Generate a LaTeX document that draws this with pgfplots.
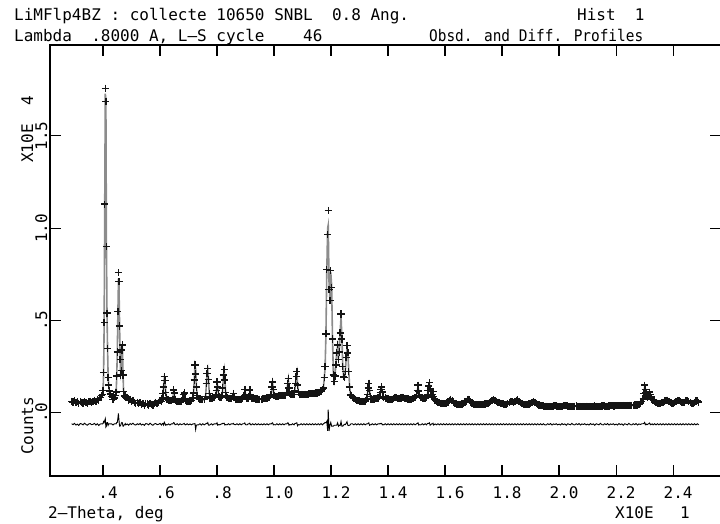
\documentclass[border=0pt]{standalone}
\usepackage{pgfplots}
\pgfplotsset{compat=1.18}
\usepackage{pgfplotstable}
\usepackage{graphicx}
\usepackage{fontspec}
\setmainfont{DejaVu Sans Mono}

\definecolor{obscol}{RGB}{20,20,20}
\definecolor{calccol}{RGB}{140,140,140}

% x (2-theta / 10), observed, calculated  (counts / 1e4)
\pgfplotstableread[row sep=\\]{
x obs calc\\
0.290 0.063 0.060\\ 0.295 0.059 0.061\\ 0.300 0.066 0.061\\ 0.305 0.056 0.060\\ 0.310 0.060 0.059\\ 0.315 0.052 0.058\\
0.320 0.061 0.057\\ 0.325 0.058 0.056\\ 0.330 0.053 0.056\\ 0.335 0.062 0.056\\ 0.340 0.056 0.057\\ 0.345 0.052 0.057\\
0.350 0.060 0.058\\ 0.355 0.063 0.059\\ 0.360 0.058 0.060\\ 0.365 0.061 0.061\\ 0.370 0.068 0.063\\ 0.375 0.062 0.066\\
0.380 0.073 0.070\\ 0.385 0.069 0.075\\ 0.390 0.083 0.082\\ 0.395 0.093 0.090\\
0.398 0.098 0.096\\ 0.400 0.122 0.118\\ 0.402 0.220 0.205\\ 0.404 0.490 0.480\\ 0.406 1.130 1.110\\ 0.408 1.758 1.728\\
0.410 1.685 1.700\\ 0.412 0.900 0.910\\ 0.414 0.540 0.530\\ 0.416 0.350 0.340\\ 0.418 0.190 0.195\\ 0.420 0.150 0.148\\ 0.422 0.118 0.115\\
0.425 0.102 0.100\\ 0.430 0.088 0.085\\ 0.435 0.071 0.075\\ 0.440 0.081 0.078\\
0.444 0.095 0.092\\ 0.446 0.112 0.110\\ 0.448 0.200 0.190\\ 0.450 0.330 0.320\\ 0.452 0.550 0.520\\ 0.454 0.759 0.700\\
0.456 0.712 0.690\\ 0.458 0.470 0.480\\ 0.460 0.290 0.300\\ 0.462 0.205 0.210\\ 0.464 0.230 0.225\\ 0.466 0.340 0.330\\
0.468 0.368 0.360\\ 0.470 0.205 0.215\\ 0.472 0.115 0.125\\ 0.474 0.095 0.098\\ 0.476 0.088 0.090\\ 0.478 0.092 0.088\\
0.480 0.085 0.088\\ 0.485 0.082 0.080\\ 0.490 0.069 0.074\\ 0.495 0.072 0.068\\ 0.500 0.063 0.064\\ 0.505 0.067 0.061\\
0.510 0.056 0.058\\ 0.515 0.052 0.056\\ 0.520 0.057 0.054\\ 0.525 0.050 0.052\\ 0.530 0.055 0.050\\ 0.535 0.045 0.049\\
0.540 0.049 0.048\\ 0.545 0.041 0.047\\ 0.550 0.051 0.047\\ 0.555 0.048 0.046\\ 0.560 0.043 0.046\\ 0.565 0.052 0.046\\
0.570 0.046 0.047\\ 0.575 0.043 0.048\\ 0.580 0.052 0.050\\ 0.585 0.056 0.052\\ 0.590 0.052 0.054\\ 0.595 0.057 0.057\\
0.600 0.065 0.060\\ 0.605 0.061 0.065\\
0.6075 0.075 0.072\\ 0.6100 0.105 0.100\\ 0.6125 0.141 0.145\\ 0.6150 0.196 0.185\\ 0.6175 0.174 0.170\\ 0.6200 0.110 0.115\\ 0.6225 0.080 0.082\\
0.625 0.072 0.075\\ 0.630 0.070 0.068\\ 0.635 0.066 0.070\\ 0.640 0.066 0.063\\
0.6450 0.072 0.070\\ 0.6475 0.124 0.115\\ 0.6500 0.107 0.100\\ 0.6525 0.072 0.074\\
0.655 0.066 0.068\\ 0.660 0.063 0.060\\ 0.665 0.062 0.066\\ 0.670 0.062 0.059\\ 0.675 0.064 0.066\\
0.6800 0.075 0.074\\ 0.6825 0.098 0.095\\ 0.6850 0.107 0.102\\ 0.6875 0.078 0.080\\
0.690 0.066 0.069\\ 0.695 0.063 0.060\\ 0.700 0.062 0.065\\ 0.705 0.064 0.062\\ 0.710 0.068 0.071\\
0.7150 0.080 0.078\\ 0.7175 0.107 0.105\\ 0.7200 0.178 0.175\\ 0.7225 0.259 0.255\\ 0.7250 0.210 0.238\\ 0.7275 0.140 0.145\\ 0.7300 0.095 0.098\\
0.735 0.078 0.081\\ 0.740 0.075 0.072\\ 0.745 0.072 0.076\\ 0.750 0.072 0.069\\ 0.755 0.074 0.077\\
0.7600 0.090 0.088\\ 0.7625 0.160 0.155\\ 0.7650 0.214 0.210\\ 0.7675 0.241 0.232\\ 0.7700 0.181 0.185\\ 0.7725 0.105 0.110\\
0.775 0.080 0.083\\ 0.780 0.078 0.075\\ 0.785 0.080 0.084\\ 0.790 0.084 0.081\\
0.7950 0.092 0.090\\ 0.7975 0.120 0.118\\ 0.8000 0.168 0.160\\ 0.8025 0.140 0.145\\ 0.8050 0.100 0.102\\ 0.8075 0.088 0.090\\
0.810 0.085 0.088\\ 0.815 0.082 0.080\\
0.8175 0.095 0.093\\ 0.8200 0.135 0.130\\ 0.8225 0.205 0.200\\ 0.8250 0.236 0.230\\ 0.8275 0.178 0.182\\ 0.8300 0.110 0.112\\ 0.8325 0.088 0.090\\
0.835 0.082 0.085\\ 0.840 0.078 0.075\\ 0.845 0.076 0.079\\ 0.850 0.076 0.073\\
0.8550 0.090 0.088\\ 0.8575 0.105 0.100\\ 0.8600 0.085 0.086\\
0.865 0.074 0.076\\ 0.870 0.073 0.070\\ 0.875 0.072 0.075\\ 0.880 0.072 0.069\\ 0.885 0.074 0.077\\ 0.890 0.076 0.073\\
0.8950 0.095 0.092\\ 0.8975 0.127 0.120\\ 0.9000 0.100 0.102\\
0.905 0.078 0.081\\ 0.910 0.080 0.077\\
0.9125 0.090 0.088\\ 0.9150 0.124 0.118\\ 0.9175 0.098 0.100\\
0.920 0.080 0.083\\ 0.925 0.078 0.075\\ 0.930 0.076 0.079\\ 0.935 0.075 0.072\\ 0.940 0.075 0.078\\ 0.945 0.074 0.071\\
0.950 0.074 0.077\\ 0.955 0.074 0.072\\ 0.960 0.075 0.078\\ 0.965 0.076 0.073\\ 0.970 0.078 0.081\\ 0.975 0.080 0.077\\
0.980 0.082 0.085\\ 0.985 0.085 0.082\\
0.9900 0.100 0.098\\ 0.9925 0.141 0.135\\ 0.9950 0.168 0.160\\ 0.9975 0.125 0.128\\ 1.0000 0.095 0.097\\
1.005 0.088 0.091\\ 1.010 0.090 0.087\\ 1.015 0.091 0.094\\ 1.020 0.092 0.089\\ 1.025 0.093 0.096\\ 1.030 0.094 0.091\\
1.035 0.095 0.098\\ 1.040 0.096 0.093\\
1.0450 0.110 0.108\\ 1.0475 0.160 0.152\\ 1.0500 0.187 0.180\\ 1.0525 0.135 0.140\\ 1.0550 0.105 0.106\\
1.060 0.098 0.101\\ 1.065 0.098 0.095\\ 1.070 0.099 0.102\\
1.0725 0.118 0.115\\ 1.0750 0.160 0.155\\ 1.0775 0.196 0.190\\ 1.0800 0.223 0.215\\ 1.0825 0.150 0.158\\ 1.0850 0.112 0.114\\
1.090 0.100 0.103\\ 1.095 0.100 0.097\\ 1.100 0.100 0.103\\ 1.105 0.100 0.097\\ 1.110 0.101 0.104\\ 1.115 0.101 0.098\\
1.120 0.102 0.105\\ 1.125 0.103 0.100\\ 1.130 0.104 0.107\\ 1.135 0.105 0.102\\ 1.140 0.106 0.109\\ 1.145 0.107 0.104\\
1.150 0.108 0.111\\ 1.155 0.110 0.107\\ 1.160 0.112 0.115\\ 1.165 0.118 0.114\\ 1.170 0.125 0.128\\
1.173 0.135 0.132\\ 1.176 0.190 0.185\\ 1.179 0.250 0.240\\ 1.182 0.428 0.420\\ 1.185 0.776 0.760\\ 1.188 0.965 1.000\\
1.190 1.096 1.016\\ 1.193 0.667 0.703\\ 1.196 0.610 0.615\\ 1.199 0.770 0.760\\ 1.202 0.680 0.690\\ 1.205 0.400 0.410\\
1.208 0.205 0.215\\ 1.211 0.170 0.175\\ 1.214 0.200 0.205\\ 1.217 0.260 0.265\\ 1.220 0.325 0.330\\ 1.223 0.368 0.360\\
1.226 0.290 0.300\\ 1.229 0.330 0.335\\ 1.232 0.433 0.440\\ 1.235 0.535 0.520\\ 1.238 0.400 0.410\\ 1.241 0.250 0.260\\
1.244 0.195 0.200\\ 1.247 0.190 0.190\\ 1.250 0.223 0.225\\ 1.253 0.300 0.295\\ 1.256 0.364 0.350\\ 1.259 0.325 0.330\\
1.262 0.223 0.230\\ 1.265 0.140 0.145\\ 1.268 0.100 0.102\\
1.270 0.095 0.092\\ 1.275 0.085 0.082\\ 1.280 0.078 0.081\\ 1.285 0.073 0.070\\ 1.290 0.069 0.072\\ 1.295 0.066 0.063\\
1.300 0.064 0.067\\ 1.305 0.062 0.059\\ 1.310 0.061 0.064\\ 1.315 0.062 0.059\\ 1.320 0.064 0.067\\
1.3250 0.075 0.072\\ 1.3275 0.100 0.098\\ 1.3300 0.135 0.130\\ 1.3325 0.160 0.152\\ 1.3350 0.120 0.125\\ 1.3375 0.088 0.090\\
1.340 0.075 0.078\\ 1.345 0.072 0.069\\ 1.350 0.075 0.078\\ 1.355 0.076 0.073\\ 1.360 0.078 0.081\\ 1.365 0.080 0.077\\
1.3700 0.088 0.086\\ 1.3725 0.110 0.105\\ 1.3750 0.128 0.125\\ 1.3775 0.140 0.135\\ 1.3800 0.112 0.115\\ 1.3825 0.090 0.092\\
1.385 0.082 0.085\\ 1.390 0.080 0.077\\ 1.395 0.078 0.081\\ 1.400 0.075 0.072\\ 1.405 0.073 0.076\\ 1.410 0.072 0.069\\
1.415 0.074 0.077\\ 1.420 0.078 0.075\\ 1.425 0.085 0.088\\ 1.430 0.082 0.079\\ 1.435 0.079 0.082\\ 1.440 0.078 0.075\\
1.445 0.080 0.083\\ 1.450 0.084 0.081\\ 1.455 0.082 0.085\\ 1.460 0.078 0.075\\ 1.465 0.076 0.079\\ 1.470 0.075 0.072\\
1.475 0.074 0.077\\ 1.480 0.074 0.071\\ 1.485 0.076 0.079\\ 1.490 0.078 0.075\\ 1.495 0.082 0.085\\
1.5000 0.095 0.092\\ 1.5025 0.120 0.115\\ 1.5050 0.150 0.142\\ 1.5075 0.118 0.122\\ 1.5100 0.092 0.094\\
1.515 0.082 0.085\\ 1.520 0.080 0.077\\ 1.525 0.079 0.082\\ 1.530 0.078 0.075\\ 1.535 0.082 0.085\\
1.5375 0.098 0.095\\ 1.5400 0.120 0.115\\ 1.5425 0.145 0.140\\ 1.5450 0.163 0.155\\ 1.5475 0.130 0.135\\ 1.5500 0.100 0.102\\
1.5525 0.092 0.090\\ 1.5550 0.100 0.098\\ 1.5575 0.114 0.108\\ 1.5600 0.090 0.094\\ 1.5625 0.075 0.076\\ 1.5650 0.068 0.066\\
1.570 0.062 0.065\\ 1.575 0.058 0.055\\ 1.580 0.055 0.058\\ 1.585 0.052 0.049\\ 1.590 0.050 0.053\\ 1.595 0.050 0.047\\
1.600 0.050 0.053\\ 1.605 0.053 0.050\\ 1.610 0.058 0.061\\ 1.615 0.068 0.065\\ 1.620 0.074 0.077\\ 1.625 0.065 0.062\\
1.630 0.056 0.059\\ 1.635 0.051 0.048\\ 1.640 0.048 0.051\\ 1.645 0.047 0.044\\ 1.650 0.046 0.049\\ 1.655 0.047 0.044\\
1.660 0.048 0.051\\ 1.665 0.051 0.048\\ 1.670 0.055 0.058\\ 1.675 0.063 0.060\\ 1.680 0.074 0.077\\ 1.685 0.070 0.067\\
1.690 0.058 0.061\\ 1.695 0.052 0.049\\ 1.700 0.048 0.051\\ 1.705 0.046 0.043\\ 1.710 0.045 0.048\\ 1.715 0.045 0.042\\
1.720 0.045 0.048\\ 1.725 0.045 0.042\\ 1.730 0.046 0.049\\ 1.735 0.047 0.044\\ 1.740 0.048 0.051\\ 1.745 0.050 0.047\\
1.750 0.052 0.055\\ 1.755 0.056 0.053\\ 1.760 0.060 0.063\\ 1.765 0.068 0.065\\ 1.770 0.073 0.076\\ 1.775 0.066 0.063\\
1.780 0.061 0.064\\ 1.785 0.058 0.055\\ 1.790 0.055 0.058\\ 1.795 0.052 0.049\\ 1.800 0.050 0.053\\ 1.805 0.048 0.045\\
1.810 0.046 0.049\\ 1.815 0.047 0.044\\ 1.820 0.050 0.053\\ 1.825 0.056 0.053\\ 1.830 0.062 0.065\\ 1.835 0.060 0.057\\
1.840 0.058 0.061\\ 1.845 0.062 0.059\\ 1.850 0.068 0.071\\ 1.855 0.070 0.067\\ 1.860 0.061 0.064\\ 1.865 0.055 0.052\\
1.870 0.050 0.053\\ 1.875 0.047 0.044\\ 1.880 0.045 0.048\\ 1.885 0.045 0.042\\ 1.890 0.045 0.048\\ 1.895 0.048 0.045\\
1.900 0.052 0.055\\ 1.905 0.058 0.055\\ 1.910 0.062 0.065\\ 1.915 0.056 0.053\\ 1.920 0.050 0.053\\ 1.925 0.045 0.042\\
1.930 0.042 0.045\\ 1.935 0.040 0.037\\ 1.940 0.038 0.041\\ 1.945 0.037 0.034\\ 1.950 0.036 0.039\\
1.955 0.036 0.039\\ 1.960 0.035 0.032\\ 1.965 0.035 0.037\\ 1.970 0.035 0.031\\ 1.975 0.036 0.040\\ 1.980 0.037 0.035\\
1.985 0.038 0.039\\ 1.990 0.037 0.034\\ 1.995 0.036 0.039\\ 2.000 0.035 0.034\\ 2.005 0.035 0.039\\ 2.010 0.036 0.032\\
2.015 0.038 0.040\\ 2.020 0.040 0.038\\ 2.025 0.039 0.044\\ 2.030 0.037 0.034\\ 2.035 0.035 0.035\\ 2.040 0.034 0.037\\
2.045 0.034 0.029\\ 2.050 0.035 0.037\\ 2.055 0.036 0.039\\ 2.060 0.037 0.034\\ 2.065 0.036 0.038\\ 2.070 0.035 0.031\\
2.075 0.034 0.038\\ 2.080 0.034 0.032\\ 2.085 0.034 0.035\\ 2.090 0.035 0.032\\ 2.095 0.036 0.039\\ 2.100 0.035 0.034\\
2.105 0.034 0.038\\ 2.110 0.034 0.030\\ 2.115 0.035 0.037\\ 2.120 0.036 0.034\\ 2.125 0.037 0.042\\ 2.130 0.036 0.033\\
2.135 0.035 0.035\\ 2.140 0.035 0.038\\ 2.145 0.036 0.031\\ 2.150 0.037 0.039\\ 2.155 0.038 0.041\\ 2.160 0.037 0.034\\
2.165 0.036 0.038\\ 2.170 0.036 0.032\\ 2.175 0.037 0.041\\ 2.180 0.038 0.036\\ 2.185 0.038 0.039\\ 2.190 0.037 0.034\\
2.195 0.037 0.040\\ 2.200 0.038 0.037\\ 2.205 0.039 0.043\\ 2.210 0.038 0.034\\ 2.215 0.038 0.040\\ 2.220 0.039 0.037\\
2.225 0.040 0.045\\ 2.230 0.039 0.036\\ 2.235 0.039 0.039\\ 2.240 0.040 0.043\\ 2.245 0.041 0.036\\ 2.250 0.040 0.042\\
2.255 0.040 0.043\\ 2.260 0.041 0.038\\ 2.265 0.042 0.044\\ 2.270 0.042 0.038\\ 2.275 0.043 0.047\\ 2.280 0.045 0.043\\
2.285 0.050 0.051\\ 2.290 0.060 0.057\\
2.2950 0.075 0.072\\ 2.2975 0.105 0.100\\ 2.3000 0.150 0.140\\ 2.3025 0.128 0.130\\ 2.3050 0.110 0.108\\ 2.3075 0.092 0.094\\
2.3100 0.085 0.086\\ 2.3125 0.090 0.088\\ 2.3150 0.100 0.096\\ 2.3175 0.112 0.105\\ 2.3200 0.098 0.100\\ 2.3225 0.085 0.084\\
2.3250 0.075 0.076\\ 2.3275 0.072 0.070\\
2.330 0.066 0.069\\ 2.335 0.060 0.057\\ 2.340 0.055 0.058\\ 2.345 0.052 0.049\\ 2.350 0.051 0.054\\ 2.355 0.052 0.049\\
2.360 0.054 0.057\\ 2.365 0.058 0.055\\ 2.370 0.064 0.067\\ 2.375 0.069 0.066\\ 2.380 0.068 0.071\\ 2.385 0.062 0.059\\
2.390 0.056 0.059\\ 2.395 0.053 0.050\\ 2.400 0.052 0.055\\ 2.405 0.054 0.051\\ 2.410 0.060 0.063\\ 2.415 0.067 0.064\\
2.420 0.066 0.069\\ 2.425 0.060 0.057\\ 2.430 0.055 0.058\\ 2.435 0.054 0.051\\ 2.440 0.058 0.061\\ 2.445 0.065 0.062\\
2.450 0.066 0.069\\ 2.455 0.060 0.057\\ 2.460 0.055 0.058\\ 2.465 0.052 0.049\\ 2.470 0.052 0.055\\ 2.475 0.056 0.053\\
2.480 0.064 0.067\\ 2.485 0.066 0.063\\ 2.490 0.058 0.061\\
}\gsasdata

\newcommand{\tx}[3]{\node[anchor=base west, inner sep=0pt] at (#1pt,#2pt) {#3};}

\begin{document}
\begin{tikzpicture}[font=\fontsize{16}{19}\selectfont]
\path[use as bounding box] (0,0) rectangle (720pt,523pt);
\begin{axis}[
    at={(50pt,47pt)}, anchor=south west,
    width=671pt, height=431pt, scale only axis,
    xmin=0.214, xmax=2.568, ymin=-0.342, ymax=1.992,
    axis line style={line width=1.2pt},
    tick align=inside, major tick length=11pt,
    tick style={line width=1.2pt, black},
    xtick pos=both, ytick pos=both,
    xticklabel pos=lower, yticklabel pos=left,
    xtick={0.4,0.6,0.8,1.0,1.2,1.4,1.6,1.8,2.0,2.2,2.4},
    xticklabels={.4,.6,.8,1.0,1.2,1.4,1.6,1.8,2.0,2.2,2.4},
    ytick={0,0.5,1.0,1.5},
    yticklabels={.0,.5,1.0,1.5},
    ticklabel style={font=\fontsize{16}{19}\selectfont},
    xticklabel style={anchor=base, xshift=5pt, yshift=-22pt, inner sep=0pt},
    yticklabel style={xshift=-3pt, rotate=90, anchor=base, inner sep=0pt},
]
\addplot[only marks, mark=+, mark size=3.6pt, mark options={draw=obscol, line width=1.4pt}]
    table[x=x, y=obs] {\gsasdata};
\addplot[calccol, line width=1.6pt] table[x=x, y=calc] {\gsasdata};
\addplot[black, line width=0.9pt] table[x=x, y expr=\thisrow{obs}-\thisrow{calc}-0.062] {\gsasdata};
\end{axis}
% header
\tx{14}{502}{LiMFlp4BZ : collecte 10650 SNBL\ \ 0.8 Ang.}
\tx{577}{502}{Hist\ \ 1}
\tx{14}{481.5}{Lambda\ \ .8000 A, L--S cycle\ \ \ \ 46}
\node[anchor=base west, inner sep=0pt] at (429pt,481.5pt) {\resizebox{214pt}{\height}{Obsd. and Diff. Profiles}};
% axis titles
\tx{48}{4.5}{2--Theta, deg}
\tx{615}{4.5}{X10E}
\tx{680}{4.5}{1}
\node[rotate=90, anchor=base west, inner sep=0pt] at (33pt,360pt) {X10E\ \ 4};
\node[rotate=90, anchor=base west, inner sep=0pt] at (33pt,68pt) {Counts};
\end{tikzpicture}
\end{document}
